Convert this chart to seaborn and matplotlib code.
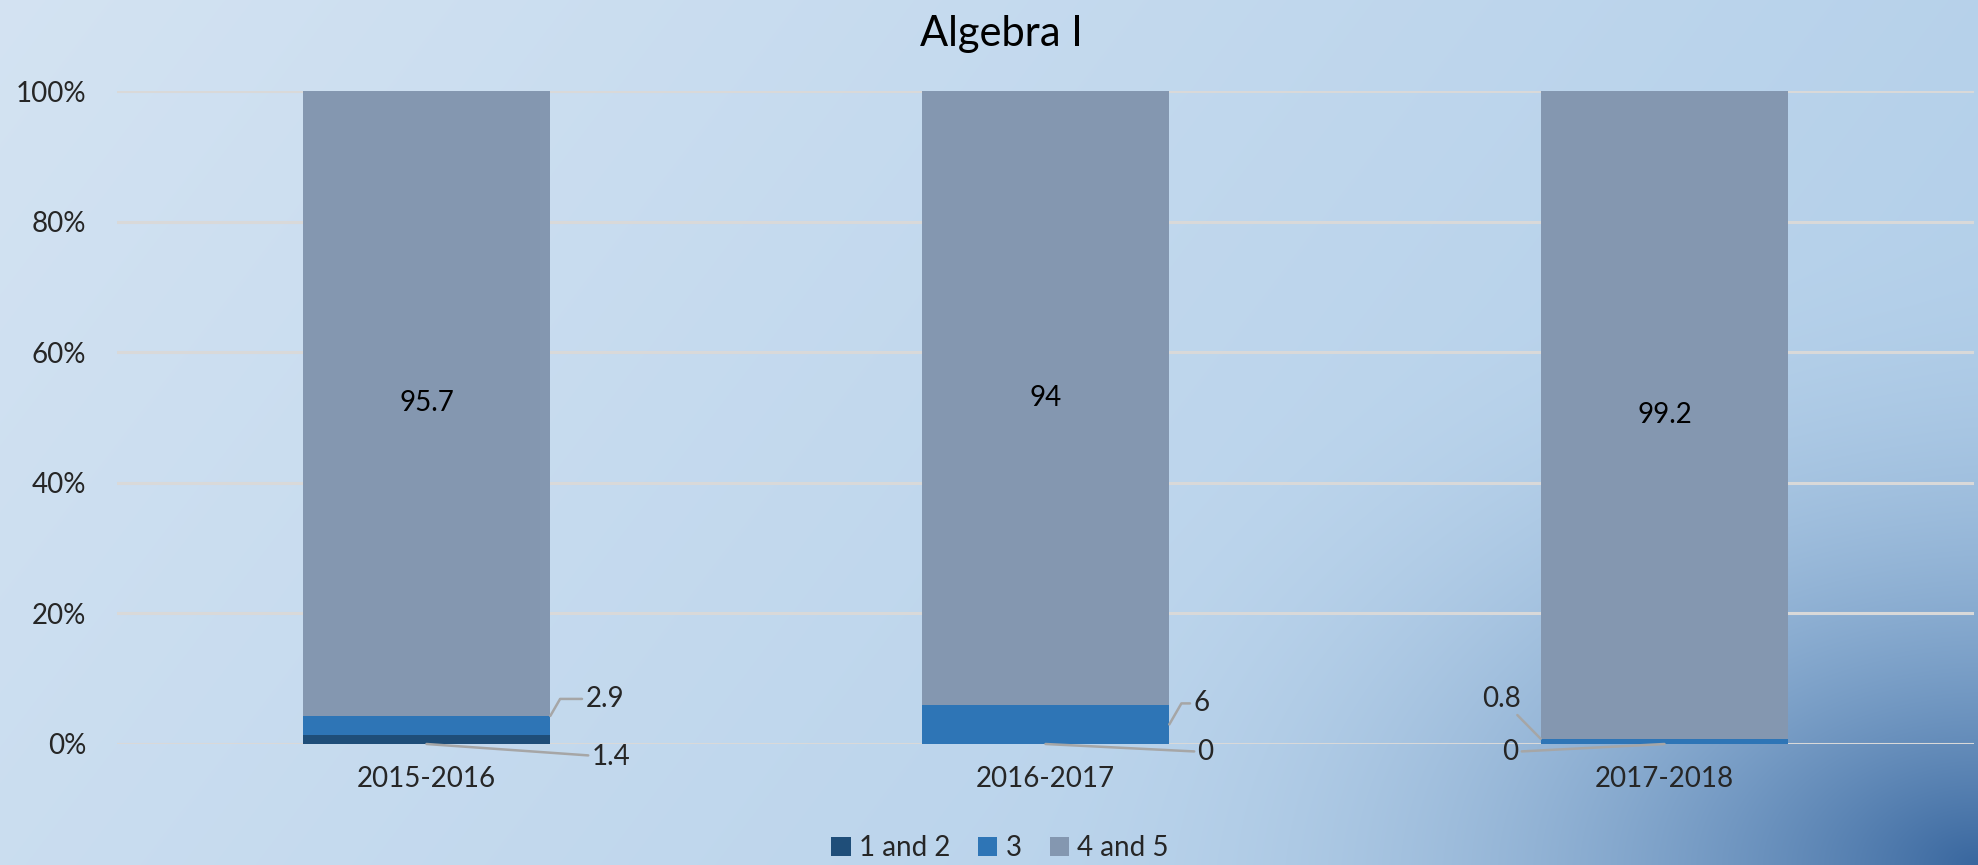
import numpy as np
import pandas as pd
import matplotlib
matplotlib.use("Agg")
import matplotlib.pyplot as plt
import seaborn as sns

# data (percent of students)
years = ["2015-2016", "2016-2017", "2017-2018"]
lvl_1_2 = [1.4, 0, 0]
lvl_3 = [2.9, 6, 0.8]
lvl_4_5 = [95.7, 94, 99.2]
series_names = ["1 and 2", "3", "4 and 5"]
colors = ["#1f4e79", "#2e75b6", "#8497b0"]

df = pd.DataFrame({"year": years, "1 and 2": lvl_1_2, "3": lvl_3, "4 and 5": lvl_4_5})

sns.set_theme(style="white")
plt.rcParams["font.family"] = ["Lato", "DejaVu Sans"]

W, H = 1978, 865
fig = plt.figure(figsize=(W / 100, H / 100), dpi=100)

# background gradient
bg = fig.add_axes([0, 0, 1, 1], zorder=-10)
yy, xx = np.mgrid[0:H, 0:W]
u = xx / W
v = yy / H
t = np.clip(0.75 * u + 0.25 * v, 0, 1)
c0 = np.array([0.83, 0.89, 0.95])
c1 = np.array([0.68, 0.80, 0.91])
img = c0[None, None, :] * (1 - t[..., None]) + c1[None, None, :] * t[..., None]
d = np.sqrt(((W - xx) / 1000.0) ** 2 + ((H - yy) / 650.0) ** 2)
k = np.clip(1 - d, 0, 1) ** 2.2
dark = np.array([0.22, 0.40, 0.62])
img = img * (1 - k[..., None]) + dark[None, None, :] * k[..., None]
bg.imshow(img, aspect="auto", extent=[0, 1, 0, 1])
bg.axis("off")

ax = fig.add_axes([117 / W, 1 - 744 / H, (1974 - 117) / W, (744 - 91) / H])
ax.set_facecolor("none")

bottom = np.zeros(len(years))
for name, col in zip(series_names, colors):
    sns.barplot(data=df, x="year", y=name, color=col, width=0.4, bottom=bottom,
                ax=ax, saturation=1, label=name, zorder=3, linewidth=0)
    bottom = bottom + df[name].values
if ax.get_legend() is not None:
    ax.get_legend().remove()

ax.set_ylim(0, 100)
ax.set_xlim(-0.5, 2.5)
ax.set_yticks([0, 20, 40, 60, 80, 100])
ax.set_yticklabels([f"{t}%" for t in range(0, 101, 20)], fontsize=20)
ax.tick_params(axis="x", labelsize=20, pad=16, length=0)
ax.tick_params(axis="y", pad=22, length=0)
ax.yaxis.grid(True, color="#d9d9d9", lw=2.2)
ax.set_axisbelow(True)
for s in ax.spines.values():
    s.set_visible(False)
ax.set_xlabel("")
ax.set_ylabel("")

# data labels for the big segment
for i in range(len(years)):
    base = lvl_1_2[i] + lvl_3[i]
    ax.text(i, base + lvl_4_5[i] / 2, f"{lvl_4_5[i]:g}", ha="center", va="center",
            fontsize=20, color="black", zorder=5)

# small labels with leader lines
lead = dict(arrowstyle="-", color="#a6a6a6", lw=1.8, shrinkA=0, shrinkB=0)
kw = dict(textcoords="offset pixels", fontsize=20, va="center", zorder=5, arrowprops=lead)
elbow = dict(lead, connectionstyle="angle,angleA=0,angleB=60,rad=0")
# 2015-2016
ax.annotate(f"{lvl_3[0]:g}", xy=(0.2, lvl_1_2[0] + lvl_3[0]), xytext=(35, 17), ha="left",
            arrowprops=elbow, textcoords="offset pixels", fontsize=20, va="center", zorder=5)
ax.annotate(f"{lvl_1_2[0]:g}", xy=(0, 0), xytext=(165, -13), ha="left", **kw)
# 2016-2017
ax.annotate(f"{lvl_3[1]:g}", xy=(1.2, lvl_3[1] / 2), xytext=(24, 21), ha="left",
            arrowprops=elbow, textcoords="offset pixels", fontsize=20, va="center", zorder=5)
ax.annotate(f"{lvl_1_2[1]:g}", xy=(1, 0), xytext=(152, -8), ha="left", **kw)
# 2017-2018
ax.annotate(f"{lvl_3[2]:g}", xy=(1.8, lvl_3[2]), xytext=(-20, 40), ha="right", **kw)
ax.annotate(f"{lvl_1_2[2]:g}", xy=(2, 0), xytext=(-146, -8), ha="right", **kw)

fig.text(1001 / W, 1 - 34 / H, "Algebra I", fontsize=30, color="black", ha="center", va="center")

handles, labels = ax.get_legend_handles_labels()
fig.legend(handles, labels, loc="center", bbox_to_anchor=(1000 / W, 1 - 848 / H), ncol=3,
           frameon=False, fontsize=20, handlelength=0.7, handleheight=0.7,
           handletextpad=0.3, columnspacing=1.0)

fig.savefig("out.png", dpi=100)
